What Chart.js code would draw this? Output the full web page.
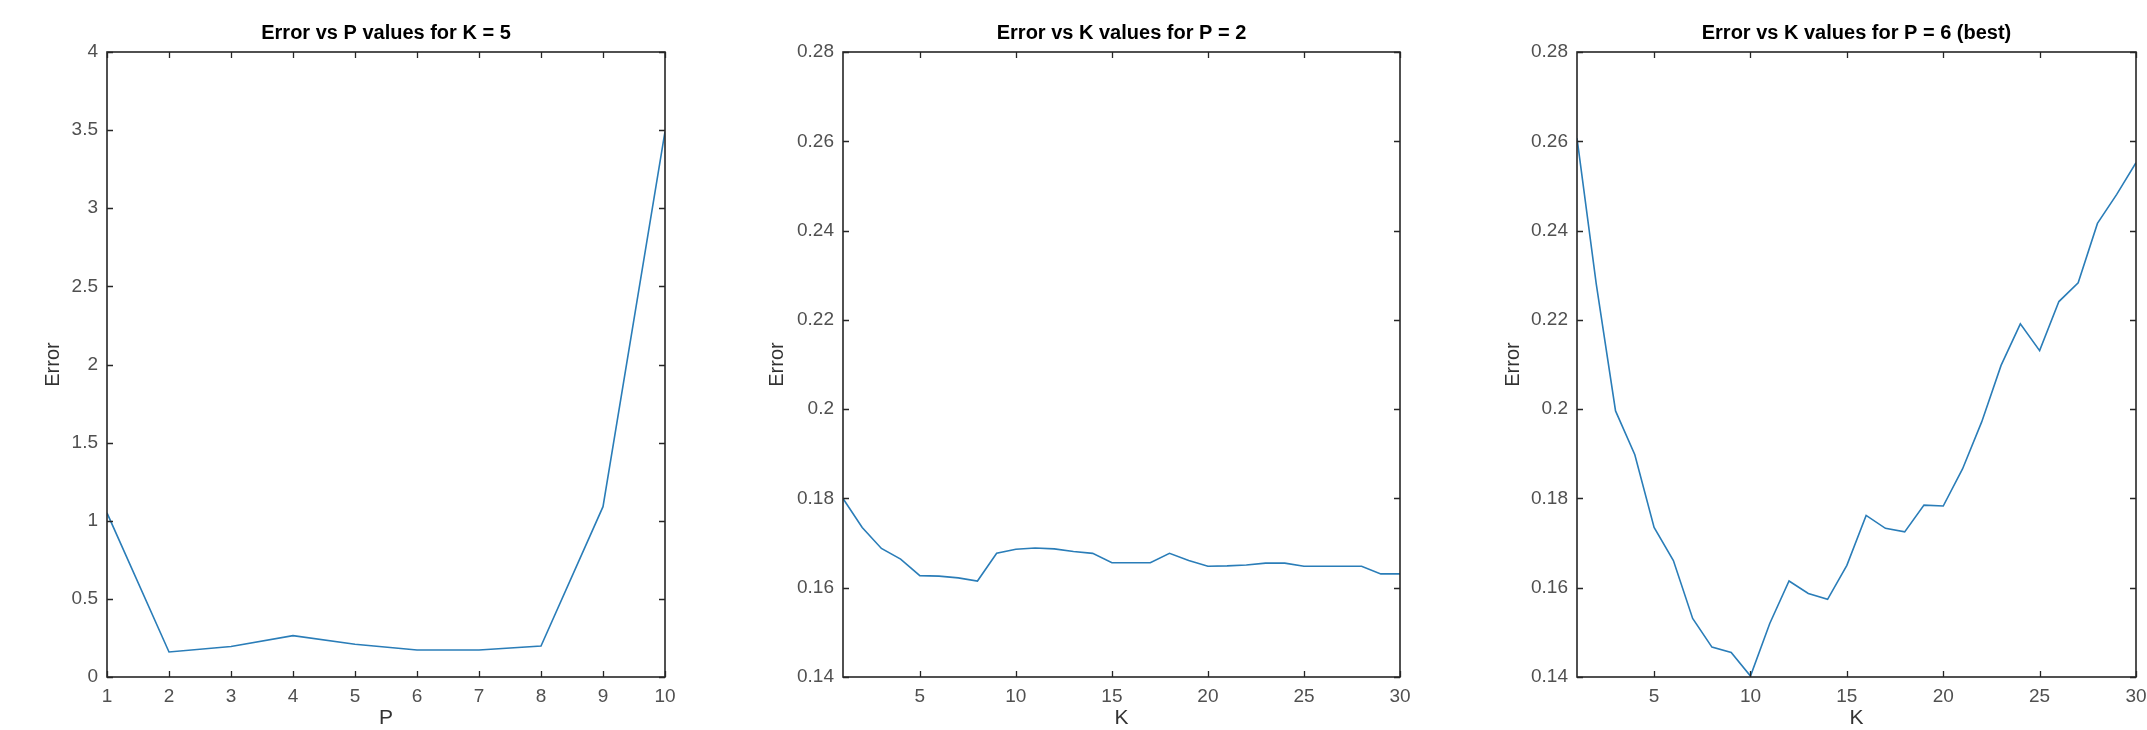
<!DOCTYPE html>
<html>
<head>
<meta charset="utf-8">
<script src="https://cdn.jsdelivr.net/npm/chart.js@4.4.0/dist/chart.umd.min.js"></script>
<style>
html,body{margin:0;padding:0;background:#fff;width:2147px;height:730px;overflow:hidden}
.panel{position:absolute;top:0;height:730px}
canvas{display:block}
</style>
</head>
<body>
<div class="panel" style="left:0px;width:715px"><canvas id="c1" width="715" height="730"></canvas></div>
<div class="panel" style="left:715px;width:715px"><canvas id="c2" width="715" height="730"></canvas></div>
<div class="panel" style="left:1430px;width:717px"><canvas id="c3" width="717" height="730"></canvas></div>
<script>
// ---- data ----
const pValues = [1, 2, 3, 4, 5, 6, 7, 8, 9, 10];
const errorByP_K5 = [1.05, 0.16, 0.195, 0.265, 0.21, 0.173, 0.173, 0.198, 1.09, 3.49];

const kValues = [1, 2, 3, 4, 5, 6, 7, 8, 9, 10, 11, 12, 13, 14, 15, 16, 17, 18, 19, 20, 21, 22, 23, 24, 25, 26, 27, 28, 29, 30];
const errorByK_P2 = [0.1800, 0.1735, 0.1688, 0.1664, 0.1627, 0.1626, 0.1622, 0.1615, 0.1677, 0.1686,
                     0.1689, 0.1687, 0.1681, 0.1677, 0.1656, 0.1656, 0.1656, 0.1677, 0.1661, 0.1648,
                     0.1649, 0.1651, 0.1655, 0.1655, 0.1648, 0.1648, 0.1648, 0.1648, 0.1631, 0.1631];
const errorByK_P6 = [0.2607, 0.2280, 0.1996, 0.1898, 0.1735, 0.1661, 0.1531, 0.1467, 0.1455, 0.1402,
                     0.1520, 0.1615, 0.1587, 0.1574, 0.1650, 0.1762, 0.1733, 0.1725, 0.1785, 0.1783,
                     0.1866, 0.1972, 0.2098, 0.2191, 0.2131, 0.2241, 0.2283, 0.2416, 0.2481, 0.2552];

const xTicksP = [1, 2, 3, 4, 5, 6, 7, 8, 9, 10];
const xTicksK = [5, 10, 15, 20, 25, 30];
const yTicksP = [0, 0.5, 1, 1.5, 2, 2.5, 3, 3.5, 4];
const yTicksK = [0.14, 0.16, 0.18, 0.2, 0.22, 0.24, 0.26, 0.28];

const titles = ['Error vs P values for K = 5', 'Error vs K values for P = 2', 'Error vs K values for P = 6 (best)'];

// ---- styling ----
const FONT = "'Liberation Sans', Arial, Helvetica, sans-serif";
const LINE_COLOR = '#2a7db8';
const AXIS_COLOR = '#262626';
const TICK_TEXT = '#505050';

const boxTicks = {
  id: 'boxTicks',
  afterDraw(chart) {
    const {ctx, chartArea: a, scales: {x, y}} = chart;
    ctx.save();
    ctx.strokeStyle = AXIS_COLOR;
    ctx.lineWidth = 1.6;
    ctx.strokeRect(a.left, a.top, a.right - a.left, a.bottom - a.top);
    ctx.lineWidth = 1.3;
    ctx.beginPath();
    const L = 6;
    x.ticks.forEach(t => {
      const px = Math.round(x.getPixelForValue(t.value)) + 0.5;
      ctx.moveTo(px, a.bottom); ctx.lineTo(px, a.bottom - L);
      ctx.moveTo(px, a.top); ctx.lineTo(px, a.top + L);
    });
    y.ticks.forEach(t => {
      const py = Math.round(y.getPixelForValue(t.value)) + 0.5;
      ctx.moveTo(a.left, py); ctx.lineTo(a.left + L, py);
      ctx.moveTo(a.right, py); ctx.lineTo(a.right - L, py);
    });
    ctx.stroke();
    ctx.restore();
  }
};

function makeChart(id, cfg) {
  const pts = cfg.xs.map((v, i) => ({x: v, y: cfg.ys[i]}));
  return new Chart(document.getElementById(id), {
    type: 'line',
    data: {datasets: [{data: pts, borderColor: LINE_COLOR, borderWidth: 1.6, pointRadius: 0, tension: 0, fill: false}]},
    options: {
      responsive: false,
      animation: false,
      layout: {padding: {left: 0, right: cfg.padRight, top: 0, bottom: 0}},
      plugins: {
        legend: {display: false},
        tooltip: {enabled: false},
        title: {
          display: true, text: cfg.title, fullSize: false, color: '#000',
          font: {family: FONT, size: 20, weight: 'bold'},
          padding: {top: 21, bottom: 7}
        }
      },
      scales: {
        x: {
          type: 'linear', min: cfg.xMin, max: cfg.xMax,
          grid: {display: false, drawTicks: false},
          border: {display: false},
          afterBuildTicks: s => { s.ticks = cfg.xTicks.map(v => ({value: v})); },
          afterFit: s => { s.height = 53; s.paddingLeft = 0; s.paddingRight = 0; },
          ticks: {color: TICK_TEXT, font: {family: FONT, size: 19}, padding: 8, maxRotation: 0, autoSkip: false,
                  callback: v => String(v)},
          title: {display: true, text: cfg.xLabel, color: '#333', font: {family: FONT, size: 21}, padding: {top: 0, bottom: -1}}
        },
        y: {
          type: 'linear', min: cfg.yMin, max: cfg.yMax,
          grid: {display: false, drawTicks: false},
          border: {display: false},
          afterBuildTicks: s => { s.ticks = cfg.yTicks.map(v => ({value: v})); },
          afterFit: s => { s.width = cfg.yAxisWidth; s.paddingTop = 0; s.paddingBottom = 0; },
          ticks: {color: TICK_TEXT, font: {family: FONT, size: 19}, padding: 9, autoSkip: false,
                  callback: v => String(v)},
          title: {display: true, text: 'Error', color: '#333', font: {family: FONT, size: 20}, padding: {top: cfg.yTitlePad, bottom: 0}}
        }
      }
    },
    plugins: [boxTicks]
  });
}

makeChart('c1', {title: titles[0], xs: pValues, ys: errorByP_K5, xMin: 1, xMax: 10, yMin: 0, yMax: 4,
  xTicks: xTicksP, yTicks: yTicksP, xLabel: 'P', yAxisWidth: 107, yTitlePad: 41, padRight: 50});
makeChart('c2', {title: titles[1], xs: kValues, ys: errorByK_P2, xMin: 1, xMax: 30, yMin: 0.14, yMax: 0.28,
  xTicks: xTicksK, yTicks: yTicksK, xLabel: 'K', yAxisWidth: 128, yTitlePad: 50, padRight: 30});
makeChart('c3', {title: titles[2], xs: kValues, ys: errorByK_P6, xMin: 1, xMax: 30, yMin: 0.14, yMax: 0.28,
  xTicks: xTicksK, yTicks: yTicksK, xLabel: 'K', yAxisWidth: 147, yTitlePad: 71, padRight: 11});
</script>
</body>
</html>
